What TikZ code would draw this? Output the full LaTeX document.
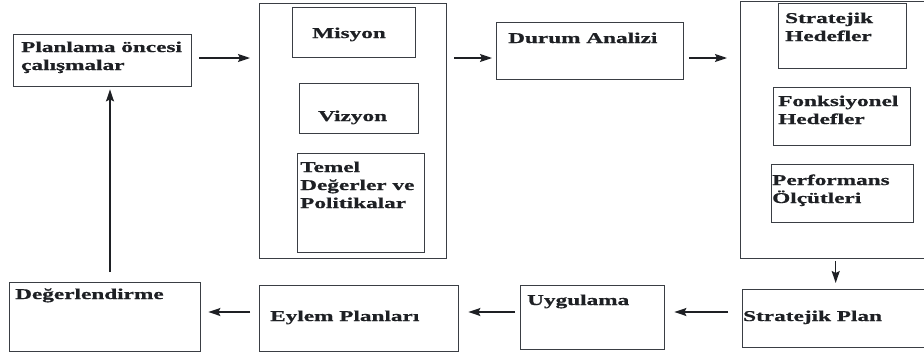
\documentclass[tikz,border=0pt]{standalone}
\usepackage{fontspec}
\setmainfont{Liberation Serif}[FakeStretch=1.55,BoldFeatures={FakeBold=0.8}]
\usetikzlibrary{arrows.meta}
\definecolor{edge}{RGB}{58,62,68}
\definecolor{ink}{RGB}{30,32,36}
\begin{document}
\begin{tikzpicture}[x=1pt,y=-1pt,
  box/.style={draw=edge,line width=1.4pt,inner sep=0pt,anchor=north west,fill=none},
  lbl/.style={anchor=base west,inner sep=0pt,align=left,text=ink,font=\fontsize{15}{18}\selectfont\bfseries},
  arr/.style={draw=ink,line width=1.4pt,-{Stealth[length=12pt,width=8pt,inset=2pt]}}]
\useasboundingbox[fill=white] (0,0) rectangle (924,354);
% boxes
\node[box,minimum width=178pt,minimum height=52pt] (plan) at (13,34) {};
\node[box,minimum width=187pt,minimum height=255pt] (big1) at (259,3) {};
\node[box,minimum width=123pt,minimum height=50pt] (misyon) at (292,7) {};
\node[box,minimum width=119pt,minimum height=50pt] (vizyon) at (299,83) {};
\node[box,minimum width=127pt,minimum height=99pt] (temel) at (297,153) {};
\node[box,minimum width=187pt,minimum height=57pt] (durum) at (496,22) {};
\node[box,minimum width=190pt,minimum height=257pt] (big2) at (740,1) {};
\node[box,minimum width=128pt,minimum height=65pt] (sh) at (778,3) {};
\node[box,minimum width=137pt,minimum height=58pt] (fh) at (773,87) {};
\node[box,minimum width=142pt,minimum height=58pt] (pm) at (771,164) {};
\node[box,minimum width=191pt,minimum height=69pt] (deg) at (9,282) {};
\node[box,minimum width=199pt,minimum height=66pt] (eylem) at (259,285) {};
\node[box,minimum width=144pt,minimum height=64pt] (uyg) at (520,285) {};
\node[box,minimum width=190pt,minimum height=58pt] (sp) at (742,289) {};
% texts (multi-line: anchor is the baseline of the last line)
\node[lbl] (tplan) at (21,70) {Planlama öncesi\\çalışmalar};
\node[lbl] (tmis) at (312,38) {Misyon};
\node[lbl] (tviz) at (318,121) {Vizyon};
\node[lbl] (ttem) at (300,208) {Temel\\Değerler ve\\Politikalar};
\node[lbl] (tdur) at (508,43) {Durum Analizi};
\node[lbl] (tsh) at (785,41) {Stratejik\\Hedefler};
\node[lbl] (tfh) at (778,124) {Fonksiyonel\\Hedefler};
\node[lbl] (tpm) at (772,203) {Performans\\Ölçütleri};
\node[lbl] (tdeg) at (15,299) {Değerlendirme};
\node[lbl] (teyl) at (270,321) {Eylem Planları};
\node[lbl] (tuyg) at (527,305) {Uygulama};
\node[lbl] (tsp) at (743,321) {Stratejik Plan};
% helper coordinates
\coordinate (top) at (0,58);
\coordinate (row) at (0,312);
\coordinate (col) at (110,0);
% arrows
\draw[arr] ([xshift=7pt]plan.east |- top) -- ([xshift=-9pt]big1.west |- top);
\draw[arr] ([xshift=7pt]big1.east |- top) -- ([xshift=-4pt]durum.west |- top);
\draw[arr] ([xshift=5pt]durum.east |- top) -- ([xshift=-13pt]big2.west |- top);
\draw[arr] ([yshift=-2pt]big2.south) -- ([yshift=6pt]big2.south |- sp.north);
\draw[arr] ([xshift=-14pt]sp.west |- row) -- ([xshift=9pt]uyg.east |- row);
\draw[arr] ([xshift=-5pt]uyg.west |- row) -- ([xshift=9pt]eylem.east |- row);
\draw[arr] ([xshift=-9pt]eylem.west |- row) -- ([xshift=7pt]deg.east |- row);
\draw[arr] ([yshift=10pt]deg.north -| col) -- ([yshift=-2pt]plan.south -| col);
\end{tikzpicture}
\end{document}
